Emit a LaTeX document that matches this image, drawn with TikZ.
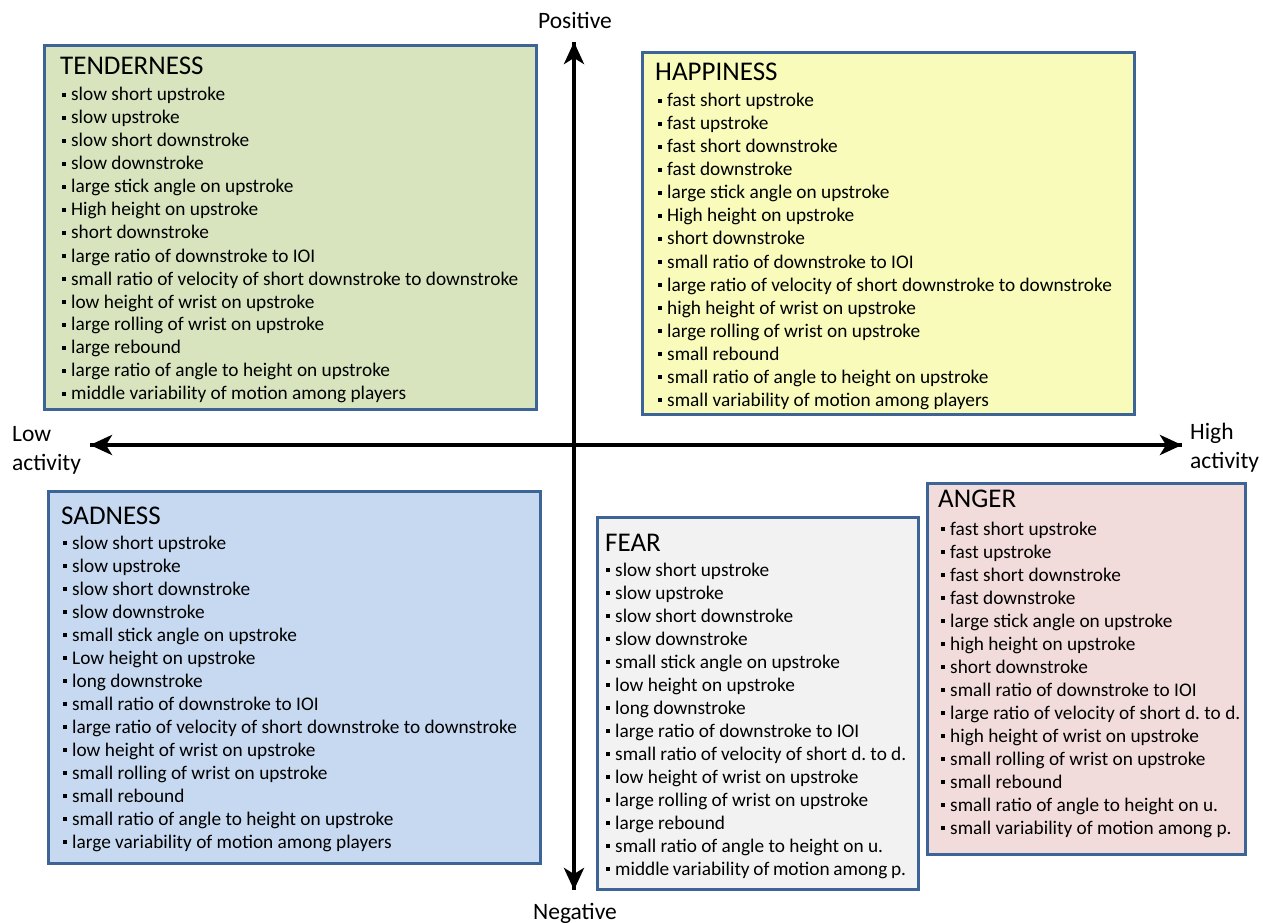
\documentclass[tikz,border=0pt]{standalone}
\usepackage{fontspec}
\setmainfont{Carlito}
\usetikzlibrary{arrows.meta}
\frenchspacing
\definecolor{bord}{HTML}{3D6496}
\definecolor{ctender}{HTML}{D7E4BD}
\definecolor{chappy}{HTML}{F8FBB9}
\definecolor{csad}{HTML}{C6D9F1}
\definecolor{cfear}{HTML}{F2F2F2}
\definecolor{canger}{HTML}{F2DCDB}
\newcommand\itm{\makebox[9pt][l]{\rule[4.4pt]{3.6pt}{3.6pt}}}
\newcommand\itemfont{\fontsize{19.3}{23}\selectfont}
\newcommand\titlefont{\fontsize{27}{30}\selectfont}
\tikzset{
  emobox/.style={draw=bord, line width=3pt, anchor=north west, inner sep=0pt},
  emotitle/.style={anchor=base west, inner sep=0pt, font=\titlefont},
  emolist/.style={anchor=base west, inner sep=0pt},
  axis/.style={line width=4pt, -{Stealth[length=22pt,width=20pt,inset=6pt]}},
  axlabel/.style={inner sep=0pt, font=\fontsize{23.5}{29}\selectfont, align=left}
}
\begin{document}
\begin{tikzpicture}[x=1pt,y=-1pt]
\useasboundingbox (0,0) rectangle (1263,923);
% boxes
\node[emobox, fill=ctender, minimum width=492pt, minimum height=364pt] (tender) at (43,44) {};
\node[emobox, fill=chappy, minimum width=492pt, minimum height=362pt] (happy) at (641,51) {};
\node[emobox, fill=csad, minimum width=492pt, minimum height=372pt] (sad) at (47,490) {};
\node[emobox, fill=cfear, minimum width=321pt, minimum height=372pt] (fear) at (596,516) {};
\node[emobox, fill=canger, minimum width=318pt, minimum height=371pt] (anger) at (926,482) {};
% axes
\coordinate (top) at (574,42);
\coordinate (bot) at (574,890);
\coordinate (left) at (90,445);
\coordinate (right) at (1182,445);
\draw[axis] (bot) -- (top);
\draw[axis] (top) -- (bot);
\draw[axis] (right) -- (left);
\draw[axis] (left) -- (right);
\node[axlabel, anchor=base] (pos) at (575,29) {Positive};
\node[axlabel, anchor=base] (neg) at (575,919) {Negative};
\node[axlabel, anchor=base west] (low) at (12,470) {Low\\activity};
\node[axlabel, anchor=base west] (high) at (1190,468) {High\\activity};
% texts
\node[emotitle] (tenderT) at (60,75) {TENDERNESS};
\node[emolist] (tenderL) at (62,101) {\parbox[t]{470pt}{\itemfont
\itm slow short upstroke\par
\itm slow upstroke\par
\itm slow short downstroke\par
\itm slow downstroke\par
\itm large stick angle on upstroke\par
\itm High height on upstroke\par
\itm short downstroke\par
\itm large ratio of downstroke to IOI\par
\itm small ratio of velocity of short downstroke to downstroke\par
\itm low height of wrist on upstroke\par
\itm large rolling of wrist on upstroke\par
\itm large rebound\par
\itm large ratio of angle to height on upstroke\par
\itm middle variability of motion among players}};
\node[emotitle] (happyT) at (655,81) {HAPPINESS};
\node[emolist] (happyL) at (658,107) {\parbox[t]{470pt}{\itemfont
\itm fast short upstroke\par
\itm fast upstroke\par
\itm fast short downstroke\par
\itm fast downstroke\par
\itm large stick angle on upstroke\par
\itm High height on upstroke\par
\itm short downstroke\par
\itm small ratio of downstroke to IOI\par
\itm large ratio of velocity of short downstroke to downstroke\par
\itm high height of wrist on upstroke\par
\itm large rolling of wrist on upstroke\par
\itm small rebound\par
\itm small ratio of angle to height on upstroke\par
\itm small variability of motion among players}};
\node[emotitle] (sadT) at (61,524) {SADNESS};
\node[emolist] (sadL) at (63,549) {\parbox[t]{470pt}{\itemfont
\itm slow short upstroke\par
\itm slow upstroke\par
\itm slow short downstroke\par
\itm slow downstroke\par
\itm small stick angle on upstroke\par
\itm Low height on upstroke\par
\itm long downstroke\par
\itm small ratio of downstroke to IOI\par
\itm large ratio of velocity of short downstroke to downstroke\par
\itm low height of wrist on upstroke\par
\itm small rolling of wrist on upstroke\par
\itm small rebound\par
\itm small ratio of angle to height on upstroke\par
\itm large variability of motion among players}};
\node[emotitle] (fearT) at (605,551) {FEAR};
\node[emolist] (fearL) at (606,576) {\parbox[t]{300pt}{\itemfont
\itm slow short upstroke\par
\itm slow upstroke\par
\itm slow short downstroke\par
\itm slow downstroke\par
\itm small stick angle on upstroke\par
\itm low height on upstroke\par
\itm long downstroke\par
\itm large ratio of downstroke to IOI\par
\itm small ratio of velocity of short d. to d.\par
\itm low height of wrist on upstroke\par
\itm large rolling of wrist on upstroke\par
\itm large rebound\par
\itm small ratio of angle to height on u.\par
\itm middle variability of motion among p.}};
\node[emotitle] (angerT) at (938,507) {ANGER};
\node[emolist] (angerL) at (941,535) {\parbox[t]{300pt}{\itemfont
\itm fast short upstroke\par
\itm fast upstroke\par
\itm fast short downstroke\par
\itm fast downstroke\par
\itm large stick angle on upstroke\par
\itm high height on upstroke\par
\itm short downstroke\par
\itm small ratio of downstroke to IOI\par
\itm large ratio of velocity of short d. to d.\par
\itm high height of wrist on upstroke\par
\itm small rolling of wrist on upstroke\par
\itm small rebound\par
\itm small ratio of angle to height on u.\par
\itm small variability of motion among p.}};
\end{tikzpicture}
\end{document}
